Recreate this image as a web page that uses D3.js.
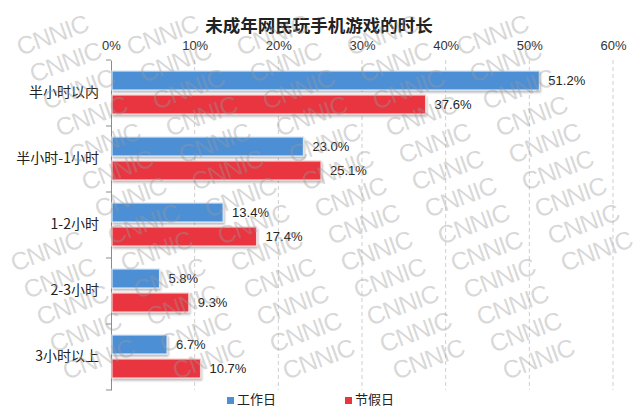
<!DOCTYPE html>
<html>
<head>
<meta charset="utf-8">
<script src="https://cdn.jsdelivr.net/npm/d3@7"></script>
<style>
  html, body { margin: 0; padding: 0; background: #fff; overflow: hidden; }
  svg { display: block; }
</style>
</head>
<body>
<div id="chart"></div>
<script>
// data
const categories = ['半小时以内', '半小时-1小时', '1-2小时', '2-3小时', '3小时以上'];
const seriesNames = ['工作日', '节假日'];
const workday = [51.2, 23.0, 13.4, 5.8, 6.7];
const holiday = [37.6, 25.1, 17.4, 9.3, 10.7];
const xTicks = [0, 10, 20, 30, 40, 50, 60];
const title = '未成年网民玩手机游戏的时长';

const width = 640;
const height = 408;
const colors = ['#4d8fd5', '#e8363f'];
const borders = ['#d6e6f7', '#f7cfd1'];
const cjk = '"Noto Sans CJK SC", "Noto Sans", sans-serif';
const latin = '"Liberation Sans", Arial, sans-serif';

const svg = d3.select('#chart')
  .append('svg')
  .attr('width', width)
  .attr('height', height);

svg.append('rect')
  .attr('width', width)
  .attr('height', height)
  .attr('fill', '#fff');

const defs = svg.append('defs');
const shadow = defs.append('filter')
  .attr('id', 'shadow')
  .attr('x', '-5%').attr('y', '-20%')
  .attr('width', '115%').attr('height', '160%');
shadow.append('feDropShadow')
  .attr('dx', 1).attr('dy', 2)
  .attr('stdDeviation', 1)
  .attr('flood-color', '#000')
  .attr('flood-opacity', 0.28);

const x = d3.scaleLinear()
  .domain([0, 60])
  .range([111, 613]);

const y = d3.scaleBand()
  .domain(categories)
  .range([60, 390]);

const sub = d3.scaleBand()
  .domain(seriesNames)
  .range([11, 54])
  .paddingInner(5 / 24);

// CNNIC watermark tiles, kept inside the picture
const marks = [];
for (let r = -3; r < 17; r++) {
  for (let c = -3; c < 7; c++) {
    const cx = c * 110 + r * 13 + 40;
    const cy = r * 27 + 10;
    if (cx > 42 && cx < 598 && cy > 22 && cy < 376) marks.push({ cx, cy });
  }
}

// dashed grid lines
svg.append('g')
  .selectAll('line')
  .data(xTicks.slice(1))
  .enter().append('line')
    .attr('x1', d => x(d))
    .attr('x2', d => x(d))
    .attr('y1', 60)
    .attr('y2', 390)
    .attr('stroke', '#cfcfcf')
    .attr('stroke-width', 1)
    .attr('stroke-dasharray', '4,3');

// top axis labels
const xAxis = svg.append('g')
  .attr('transform', 'translate(0,50)')
  .call(d3.axisTop(x).tickValues(xTicks).tickFormat(d => d + '%').tickSize(0).tickPadding(0));
xAxis.select('.domain').remove();
xAxis.selectAll('text')
  .attr('font-family', latin)
  .attr('font-size', 13)
  .attr('fill', '#333');

// left axis
const yAxis = svg.append('g')
  .attr('transform', 'translate(111,0)')
  .call(d3.axisLeft(y).tickSize(0).tickPadding(12));
yAxis.select('.domain')
  .attr('stroke', '#8c8c8c');
yAxis.selectAll('text')
  .attr('font-family', cjk)
  .attr('font-size', 14)
  .attr('fill', '#222');

// little marks between categories
svg.append('g')
  .selectAll('line')
  .data(d3.range(categories.length + 1))
  .enter().append('line')
    .attr('x1', 106)
    .attr('x2', 111)
    .attr('y1', i => 60 + i * y.step())
    .attr('y2', i => 60 + i * y.step())
    .attr('stroke', '#8c8c8c');

const rows = categories.map((c, i) => ({
  category: c,
  values: [workday[i], holiday[i]]
}));

const groups = svg.append('g')
  .selectAll('g')
  .data(rows)
  .enter().append('g')
    .attr('transform', d => `translate(0,${y(d.category)})`);

const bars = groups.selectAll('g.bar')
  .data(d => d.values.map((v, j) => ({ name: seriesNames[j], value: v, j })))
  .enter().append('g')
    .attr('class', 'bar');

bars.append('rect')
  .attr('x', x(0) + 1)
  .attr('y', d => sub(d.name))
  .attr('width', d => x(d.value) - x(0) - 1)
  .attr('height', sub.bandwidth())
  .attr('fill', d => colors[d.j])
  .attr('stroke', d => borders[d.j])
  .attr('stroke-width', 1.2)
  .attr('filter', 'url(#shadow)');

bars.append('text')
  .attr('x', d => x(d.value) + 9)
  .attr('y', d => sub(d.name) + sub.bandwidth() / 2)
  .attr('dy', '0.35em')
  .attr('font-family', latin)
  .attr('font-size', 13)
  .attr('fill', '#222')
  .text(d => d.value.toFixed(1) + '%');

// title
svg.append('text')
  .attr('x', 319)
  .attr('y', 27)
  .attr('text-anchor', 'middle')
  .attr('dominant-baseline', 'middle')
  .attr('font-family', cjk)
  .attr('font-weight', 'bold')
  .attr('font-size', 17.5)
  .attr('fill', '#222')
  .text(title);

// legend at the bottom edge
const legendX = [227, 345];
const legend = svg.append('g')
  .selectAll('g')
  .data(seriesNames)
  .enter().append('g')
    .attr('transform', (d, i) => `translate(${legendX[i]},0)`);
legend.append('rect')
  .attr('x', 0)
  .attr('y', 397)
  .attr('width', 7)
  .attr('height', 7)
  .attr('fill', (d, i) => colors[i]);
legend.append('text')
  .attr('x', 10)
  .attr('y', 400)
  .attr('dominant-baseline', 'middle')
  .attr('font-family', cjk)
  .attr('font-size', 13)
  .attr('fill', '#222')
  .text(d => d);

svg.append('g')
  .attr('pointer-events', 'none')
  .selectAll('text')
  .data(marks)
  .enter().append('text')
    .attr('transform', d => `translate(${d.cx},${d.cy}) rotate(-20)`)
    .attr('text-anchor', 'middle')
    .attr('dominant-baseline', 'middle')
    .attr('font-family', latin)
    .attr('font-size', 25)
    .attr('letter-spacing', -1)
    .attr('fill', '#999')
    .attr('fill-opacity', 0.38)
    .text('CNNIC');
</script>
</body>
</html>
